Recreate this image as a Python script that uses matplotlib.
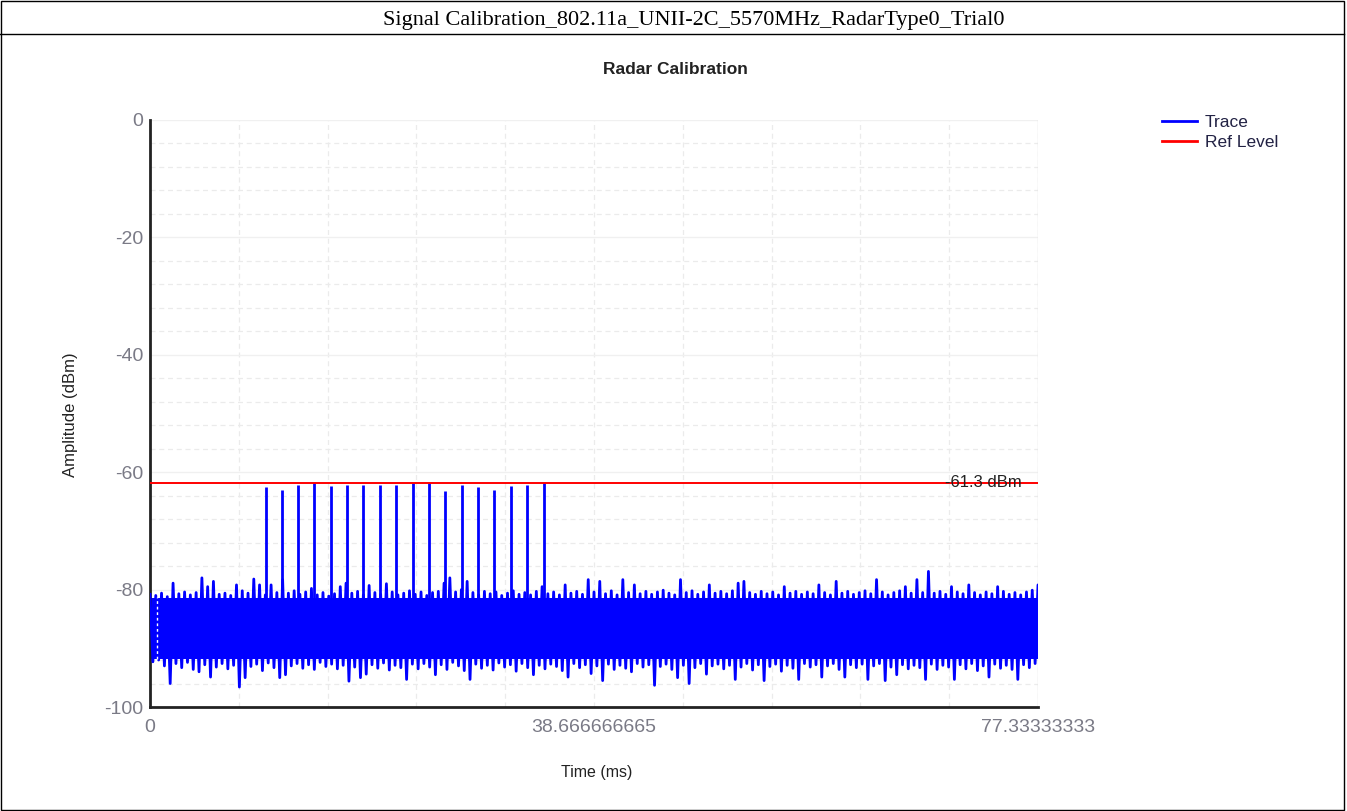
import numpy as np
import matplotlib
matplotlib.use("Agg")
import matplotlib.pyplot as plt
from matplotlib.lines import Line2D
from matplotlib.patches import Rectangle

# ---------------- data ----------------
page_title = "Signal Calibration_802.11a_UNII-2C_5570MHz_RadarType0_Trial0"
chart_title = "Radar Calibration"
x_label = "Time (ms)"
y_label = "Amplitude (dBm)"
x_max = 77.33333333
x_tick_values = [0, 38.666666665, 77.33333333]
x_tick_labels = ["0", "38.666666665", "77.33333333"]
y_tick_values = [0, -20, -40, -60, -80, -100]
y_tick_labels = ["0", "-20", "-40", "-60", "-80", "-100"]

ref_level_line = -61.8
ref_level_label = "-61.3 dBm"

# upper envelope of the noise trace, one value per ~0.5 ms
trace_top = [
    -80.8, -81.0, -80.6, -81.2, -78.9, -80.7, -80.4, -80.9, -80.5, -78.0,
    -79.5, -78.6, -80.8, -80.6, -81.0, -79.2, -80.2, -80.6, -78.2, -79.2,
    -80.9, -79.2, -80.5, -78.3, -80.6, -80.2, -80.8, -80.4, -79.8, -80.9,
    -80.5, -81.1, -80.7, -79.5, -78.9, -80.6, -80.3, -80.9, -79.3, -80.5,
    -80.8, -79.0, -80.4, -80.9, -80.6, -80.2, -80.8, -80.4, -81.0, -80.5,
    -80.3, -78.9, -78.0, -80.4, -80.0, -78.6, -80.5, -80.9, -80.3, -80.7,
    -80.4, -81.0, -80.6, -80.2, -80.8, -80.5, -80.9, -80.3, -79.5, -80.7,
    -80.4, -80.9, -79.2, -80.6, -80.3, -80.8, -78.3, -80.4, -78.6, -80.7,
    -80.2, -80.9, -78.3, -80.5, -79.2, -80.7, -80.3, -80.8, -80.4, -80.1,
    -80.6, -80.9, -78.3, -80.5, -80.2, -80.8, -80.4, -79.2, -80.6, -80.3,
    -80.7, -80.2, -78.9, -78.6, -80.5, -80.8, -80.3, -80.7, -80.4, -80.9,
    -79.5, -80.6, -80.3, -80.8, -80.4, -80.7, -79.2, -80.5, -80.9, -78.6,
    -80.6, -80.3, -80.8, -80.5, -80.2, -80.7, -78.3, -80.4, -80.9, -80.5,
    -80.2, -79.5, -80.6, -78.3, -80.5, -76.9, -80.6, -80.3, -80.8, -79.5,
    -80.4, -80.7, -79.2, -80.5, -80.9, -80.4, -80.7, -79.5, -80.3, -80.8,
    -80.5, -80.9, -80.4, -80.1, -79.2,
]
# lower envelope of the noise trace, one value per ~0.5 ms
trace_bottom = [
    -92.3, -92.0, -93.0, -96.0, -92.6, -93.3, -92.4, -93.6, -94.0, -92.8,
    -94.9, -93.2, -92.6, -93.5, -92.9, -96.6, -95.0, -93.1, -92.7, -93.8,
    -92.5, -93.3, -95.0, -94.5, -93.0, -92.6, -93.4, -92.8, -93.6, -92.4,
    -93.1, -92.7, -93.5, -92.9, -95.6, -93.2, -95.0, -94.4, -92.8, -93.4,
    -92.5, -93.7, -92.9, -93.3, -95.3, -92.7, -93.5, -92.6, -93.2, -94.5,
    -92.8, -93.6, -92.4, -93.0, -93.8, -95.3, -92.7, -93.4, -92.9, -93.7,
    -92.5, -93.2, -92.8, -93.9, -92.6, -93.3, -94.5, -92.9, -93.5, -92.7,
    -93.1, -93.8, -94.9, -92.6, -93.3, -92.8, -94.3, -93.0, -95.5, -92.7,
    -93.6, -92.9, -93.4, -94.0, -92.6, -93.2, -92.8, -96.3, -93.1, -92.7,
    -93.6, -95.0, -92.9, -96.0, -93.3, -92.6, -94.4, -93.0, -92.7, -93.5,
    -92.9, -95.3, -93.2, -92.6, -93.7, -92.8, -95.5, -93.1, -92.7, -93.9,
    -92.9, -93.4, -95.3, -92.6, -93.2, -92.8, -94.9, -93.0, -92.6, -93.6,
    -94.9, -92.8, -93.3, -92.7, -95.3, -93.0, -92.6, -95.5, -93.2, -94.5,
    -92.8, -93.5, -92.9, -93.3, -95.3, -92.7, -93.6, -92.9, -93.2, -95.3,
    -92.8, -93.5, -92.6, -93.8, -93.0, -94.9, -92.7, -93.4, -92.9, -93.6,
    -95.3, -92.8, -93.3, -92.6, -96.0,
]
# dense core of the noise band
core_top = -81.4
core_bottom = -91.8

# radar pulses
pulse_times = [10.08, 11.47, 12.86, 14.31, 15.76, 17.16, 18.58, 20.03, 21.42,
               22.88, 24.30, 25.72, 27.17, 28.59, 29.98, 31.44, 32.86, 34.29]
pulse_peaks = [-62.5, -63.0, -62.2, -61.9, -62.4, -62.2, -62.2, -62.1, -62.2,
               -61.9, -61.9, -63.2, -62.2, -62.6, -63.1, -62.4, -62.2, -61.9]
gap_time = 0.6

# ---------------- figure ----------------
W, H = 1347, 811
fig = plt.figure(figsize=(W / 100, H / 100), dpi=100)
fig.patch.set_facecolor("white")

def fx(px):
    return px / W

def fy(py):
    return 1 - py / H

# outer frame and title bar
fig.add_artist(Rectangle((fx(0.5), fy(810)), fx(1343.5), (810 - 0.5) / H,
                         transform=fig.transFigure, fill=False,
                         edgecolor="black", lw=1.0))
fig.add_artist(Line2D([fx(0), fx(1344)], [fy(34), fy(34)],
                      transform=fig.transFigure, color="black", lw=1.0))
fig.text(fx(694), fy(18), page_title, ha="center", va="center_baseline",
         family="Liberation Serif", fontsize=16, color="black")

sans = "Liberation Sans"
ax = fig.add_axes([fx(150), fy(707), fx(888), 587 / H])
ax.set_xlim(0, x_max)
ax.set_ylim(-100, 0)

# grid
for v in np.arange(0, x_max + 1e-6, x_max / 10):
    ax.axvline(v, color="#ebebeb", lw=0.9, ls=(0, (4, 3)), zorder=0)
for v in range(-96, 0, 4):
    if v % 20 != 0:
        ax.axhline(v, color="#ebebeb", lw=0.9, ls=(0, (4, 3)), zorder=0)
for v in [-20, -40, -60, -80]:
    ax.axhline(v, color="#f0f0f0", lw=1.0, zorder=0)
ax.axhline(0, color="#f0f0f0", lw=1.0, zorder=0)
ax.axvline(x_max, color="#e4e4e4", lw=1.0, zorder=0)

blue = "#0000ff"
n = len(trace_top)
step = x_max / (n - 1)
t = np.arange(n) * step
xs = np.empty(2 * n)
ys = np.empty(2 * n)
xs[0::2] = t
xs[1::2] = t + step / 2
ys[0::2] = trace_top
ys[1::2] = trace_bottom
ax.fill_between([0, x_max], core_top, core_bottom, color=blue, lw=0, zorder=2)
ax.plot(xs, ys, color=blue, lw=2.0, zorder=3, label="Trace")
ax.vlines(pulse_times, core_top, pulse_peaks, colors=blue, lw=2.0, zorder=3)
ax.vlines(gap_time, -91.8, -81.2, colors="white", linestyles=(0, (2, 2)),
          lw=1.0, zorder=4)

ax.axhline(ref_level_line, color="#ff0000", lw=1.4, zorder=5, label="Ref Level")
ax.text((1022 - 150) / 888 * x_max, ref_level_line, ref_level_label,
        ha="right", va="center", family=sans, fontsize=12, color="#222222",
        zorder=6)

# axes style
for s in ["top", "right"]:
    ax.spines[s].set_visible(False)
for s in ["left", "bottom"]:
    ax.spines[s].set_color("#222222")
    ax.spines[s].set_linewidth(2.0)
ax.set_xticks(x_tick_values)
ax.set_xticklabels(x_tick_labels)
ax.set_yticks(y_tick_values)
ax.set_yticklabels(y_tick_labels)
ax.tick_params(axis="both", length=0, labelsize=14, labelcolor="#7a7a86")
ax.tick_params(axis="x", pad=9)
ax.tick_params(axis="y", pad=5)
for lab in ax.get_xticklabels() + ax.get_yticklabels():
    lab.set_family(sans)

fig.text(fx(597), fy(772), x_label, ha="center", va="center", family=sans,
         fontsize=11.5, color="#222222")
fig.text(fx(70), fy(415), y_label, ha="center", va="center", rotation=90,
         family=sans, fontsize=12, color="#222222")
fig.text(fx(675), fy(69), chart_title, ha="center", va="center", family=sans,
         fontsize=12.5, fontweight="bold", color="#222222")

handles, labels = ax.get_legend_handles_labels()
leg = ax.legend(handles, labels, loc="upper left",
                bbox_to_anchor=(fx(1162), fy(115)), bbox_transform=fig.transFigure,
                frameon=False, handlelength=2.0, handletextpad=0.45,
                labelspacing=0.25, borderpad=0, borderaxespad=0,
                prop={"family": sans, "size": 12.5})
for h in leg.get_lines():
    h.set_linewidth(2.0)
for txt in leg.get_texts():
    txt.set_color("#222244")

fig.savefig("out.png", dpi=100, facecolor="white")
